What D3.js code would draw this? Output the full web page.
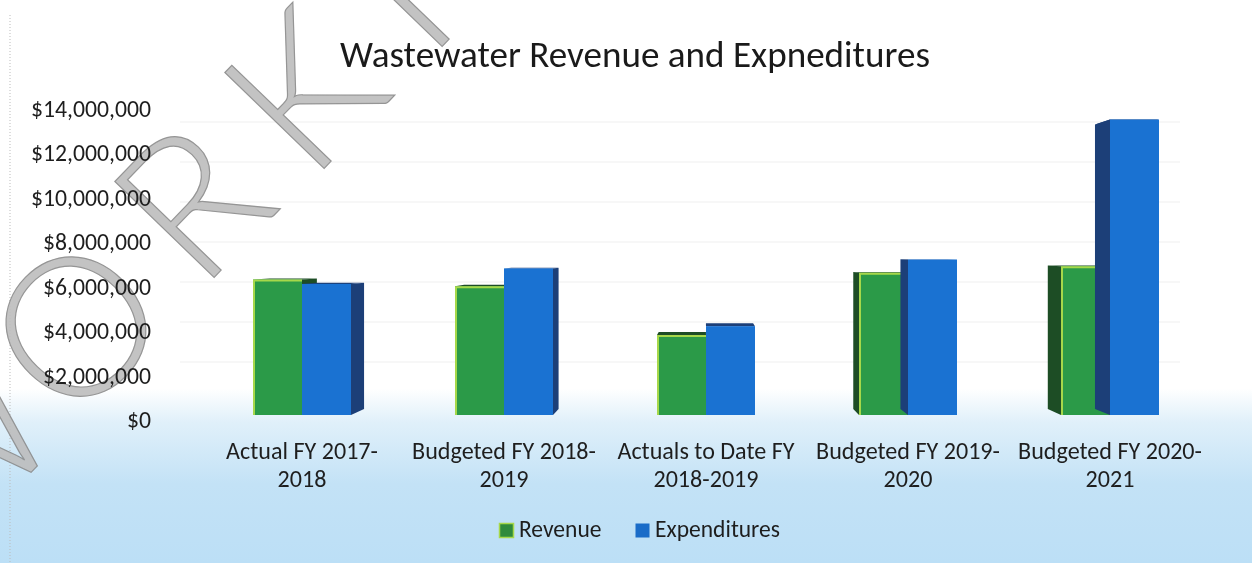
<!DOCTYPE html>
<html><head><meta charset="utf-8">
<script src="https://cdn.jsdelivr.net/npm/d3@7"></script>
<style>html,body{margin:0;padding:0;background:#fff;}svg{display:block;}</style>
</head><body>
<svg id="chart" width="1252" height="563"></svg>
<script>
const title = "Wastewater Revenue and Expneditures";
const categories = [
  ["Actual FY 2017-", "2018"],
  ["Budgeted FY 2018-", "2019"],
  ["Actuals to Date FY", "2018-2019"],
  ["Budgeted FY 2019-", "2020"],
  ["Budgeted FY 2020-", "2021"]
];
const seriesNames = ["Revenue", "Expenditures"];
const revenue = [6100000, 5800000, 3600000, 6400000, 6700000];
const expenditures = [5900000, 6600000, 4000000, 7000000, 13300000];
const yTicks = [0, 2000000, 4000000, 6000000, 8000000, 10000000, 12000000, 14000000];
const watermarkLetters = ["W", "O", "R", "K", "I"];

const W = 1252, H = 563;
const svg = d3.select("#chart");
const defs = svg.append("defs");
const bg = defs.append("linearGradient").attr("id","bg").attr("x1",0).attr("y1",0).attr("x2",0).attr("y2",1);
bg.append("stop").attr("offset","0").attr("stop-color","#ffffff");
bg.append("stop").attr("offset","0.69").attr("stop-color","#ffffff");
bg.append("stop").attr("offset","0.75").attr("stop-color","#e0f0fa");
bg.append("stop").attr("offset","0.86").attr("stop-color","#c3e2f6");
bg.append("stop").attr("offset","1").attr("stop-color","#bcdff6");
svg.append("rect").attr("width",W).attr("height",H).attr("fill","url(#bg)");

// scan border dotted line
svg.append("line").attr("x1",10).attr("x2",10).attr("y1",15).attr("y2",H)
  .attr("stroke","#bbb").attr("stroke-dasharray","1,2").attr("stroke-width",1);

const font = "Carlito, Lato, 'Liberation Sans', sans-serif";

function fitSize(sample, target, base) {
  const t = svg.append("text").attr("font-family", font).attr("font-size", base).text(sample);
  const w = t.node().getComputedTextLength();
  t.remove();
  return w > 0 ? base * target / w : base;
}

// scales
const x0 = d3.scaleBand().domain(d3.range(categories.length)).range([201, 1211]).padding(0);
const x1 = d3.scaleBand().domain(seriesNames).range([-49, 49]).padding(0);
const y = d3.scaleLinear().domain([0, 14000000]).range([415, 104]);
const yBack = y.copy().range([402, 122]);
const vp = {x: 704, y: 250}, depthT = 0.037;

// back gridlines
svg.append("g").selectAll("line").data(yTicks.slice(1)).join("line")
  .attr("x1", 180).attr("x2", 1180)
  .attr("y1", d => yBack(d)).attr("y2", d => yBack(d))
  .attr("stroke", "#f0f0f0").attr("stroke-width", 1.2);

// watermark (hollow letters along a diagonal baseline)
const wmStart = [[-67, 574], [72, 430], [200, 292], [310, 183], [428, 61]];
const gw = svg.append("g").attr("opacity", 0.9);
watermarkLetters.forEach((ch, i) => {
  gw.append("text").text(ch)
    .attr("transform", `translate(${wmStart[i][0]},${wmStart[i][1]}) rotate(-46)`)
    .attr("font-family","Lato, 'DejaVu Sans', sans-serif").attr("font-weight",300)
    .attr("font-size",195)
    .attr("fill","#bdbdbd").attr("stroke","#8a8a8a").attr("stroke-width",1.2);
});

// bars
const colors = {
  Revenue: {front:"#2b9a48", side:"#1d4d25", edge:"#a6d84a", legend:"#2f8a3c"},
  Expenditures: {front:"#1a72d2", side:"#1c3f78", edge:"#1a5fb8", legend:"#1a6cc8"}
};
const data = [];
categories.forEach((c, i) => {
  data.push({i, s:"Revenue", v:revenue[i]});
  data.push({i, s:"Expenditures", v:expenditures[i]});
});
const gBars = svg.append("g");
function back(px, py){ return [px + (vp.x - px)*depthT, py + (vp.y - py)*depthT]; }
data.forEach(d => {
  const cx = x0(d.i) + x0.bandwidth()/2;
  const xl = cx + x1(d.s), xr = xl + x1.bandwidth();
  const yt = y(d.v), yb = y(0);
  const col = colors[d.s];
  const ex = (cx < vp.x) ? xr : xl;
  if (Math.abs(cx - vp.x) > 30) {
    const pts = [[ex, yt], back(ex, yt), back(ex, yb), [ex, yb]];
    gBars.append("polygon").attr("points", pts.map(p=>p.join(",")).join(" ")).attr("fill", col.side);
  }
  const tp = [[xl, yt], [xr, yt], back(xr, yt), back(xl, yt)];
  gBars.append("polygon").attr("points", tp.map(p=>p.join(",")).join(" ")).attr("fill", col.side);
  gBars.append("rect").attr("x", xl).attr("y", yt).attr("width", xr - xl).attr("height", yb - yt)
    .attr("fill", col.front);
  if (d.s === "Revenue") {
    gBars.append("path").attr("d", `M${xl+1},${yb} L${xl+1},${yt+1} L${xr},${yt+1}`)
      .attr("fill","none").attr("stroke", col.edge).attr("stroke-width", 2);
  }
});

// y axis labels
const axisSize = fitSize("$14,000,000", 120, 20);
svg.append("g").selectAll("text").data(yTicks).join("text")
  .attr("x", 151).attr("y", d => y(d) + 13)
  .attr("text-anchor","end").attr("font-family",font).attr("font-size",axisSize).attr("fill","#1e1e1e")
  .text(d => "$" + d3.format(",")(d));

// category labels
const catSize = fitSize("Actual FY 2017-", 152, 20);
const gc = svg.append("g");
categories.forEach((lines, i) => {
  const cx = x0(i) + x0.bandwidth()/2;
  lines.forEach((t, j) => {
    gc.append("text").attr("x", cx).attr("y", 459 + j*28).attr("text-anchor","middle")
      .attr("font-family",font).attr("font-size",catSize).attr("fill","#1e1e1e").text(t);
  });
});

// title
const titleSize = fitSize(title, 590, 30);
svg.append("text").attr("x", 635).attr("y", 67).attr("text-anchor","middle")
  .attr("font-family",font).attr("font-size",titleSize).attr("fill","#1a1a1a").text(title);

// legend
const legSize = fitSize("Expenditures", 125, 20);
const legendX = [499, 635];
seriesNames.forEach((s, i) => {
  svg.append("rect").attr("x", legendX[i] + 0.5).attr("y", 523.5).attr("width", 14).attr("height", 14)
    .attr("fill", colors[s].legend).attr("stroke", i===0 ? colors[s].edge : "none").attr("stroke-width", 1.5);
  svg.append("text").attr("x", legendX[i] + 20).attr("y", 537)
    .attr("font-family",font).attr("font-size",legSize).attr("fill","#1e1e1e").text(s);
});
</script>
</body></html>
